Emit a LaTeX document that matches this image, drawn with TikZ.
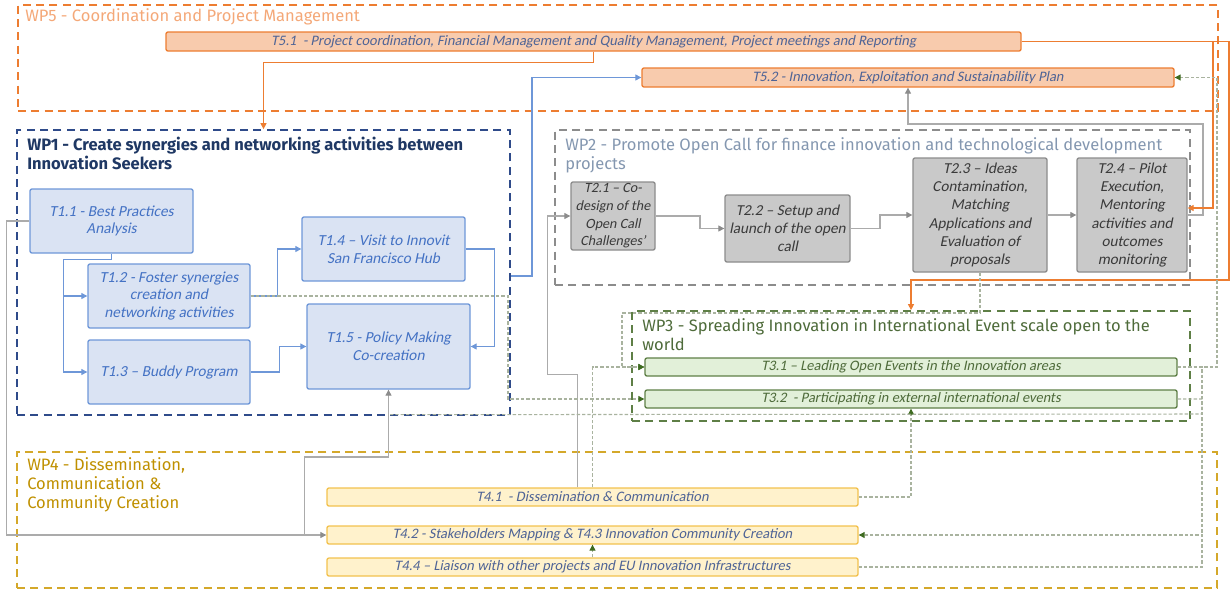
\documentclass[tikz,border=0pt]{standalone}
\usepackage{fontspec}
\setmainfont{Carlito}[AutoFakeSlant=0.2]
\newfontfamily\wpfont{Fira Sans}
\usepackage{tikz}
\usetikzlibrary{arrows.meta}

\definecolor{orangeline}{HTML}{ED7D31}
\definecolor{orangefill}{HTML}{F8CBAD}
\definecolor{orangetext}{HTML}{F4A878}
\definecolor{bluebox}{HTML}{2F4B8A}
\definecolor{bluefill}{HTML}{DAE3F3}
\definecolor{blueline}{HTML}{6E97D8}
\definecolor{bluetext}{HTML}{4472C4}
\definecolor{navytext}{HTML}{1F3864}
\definecolor{grayline}{HTML}{8C8C8C}
\definecolor{grayfill}{HTML}{C9C9C9}
\definecolor{graytext}{HTML}{3A3A3A}
\definecolor{wptwotext}{HTML}{8497B0}
\definecolor{greenline}{HTML}{5E7F46}
\definecolor{greenfill}{HTML}{E2F0D9}
\definecolor{greentext}{HTML}{4E6B3A}
\definecolor{goldline}{HTML}{D4A82A}
\definecolor{goldfill}{HTML}{FFF2CC}
\definecolor{goldbox}{HTML}{F2C14E}
\definecolor{goldtext}{HTML}{BF9000}
\definecolor{tasktext}{HTML}{4F6496}
\definecolor{linkgray}{HTML}{ABABAB}
\definecolor{linkdash}{HTML}{A9B39F}
\definecolor{tipgreen}{HTML}{3E6B20}

\begin{document}
\begin{tikzpicture}[x=0.75pt, y=-0.75pt,
    every node/.style={inner sep=0pt, align=center},
    wp/.style={draw, dash pattern=on 6pt off 4pt, line width=1.3pt},
    wplabel/.style={anchor=north west, align=left, font=\wpfont\fontsize{12.4}{14.4}\selectfont},
    task/.style={draw, rounded corners=1.5pt, line width=1pt, font=\itshape\fontsize{10.85}{13}\selectfont},
    taskone/.style={task, fill=bluefill, draw=blueline, text=bluetext, font=\itshape\fontsize{11.5}{13.2}\selectfont},
    tasktwo/.style={task, fill=grayfill, draw=grayline, text=graytext, font=\itshape\fontsize{11.4}{13.7}\selectfont},
    taskthree/.style={task, fill=greenfill, draw=greenline, text=greentext},
    taskfour/.style={task, fill=goldfill, draw=goldbox, text=tasktext},
    taskfive/.style={task, fill=orangefill, draw=orangeline, text=tasktext},
    orangearrow/.style={draw=orangeline, line width=0.8pt, -{Triangle[length=4.5pt,width=4.5pt]}},
    bluearrow/.style={draw=blueline, line width=0.8pt, -{Triangle[length=4.5pt,width=4.5pt]}},
    grayarrow/.style={draw=linkgray, line width=0.8pt, -{Triangle[length=4.5pt,width=4.5pt,color=grayline]}},
    dasharrow/.style={draw=linkdash, line width=0.8pt, dash pattern=on 2.5pt off 1.5pt, -{Triangle[length=4.5pt,width=4.5pt,color=tipgreen]}},
    dashline/.style={draw=linkdash, line width=0.8pt, dash pattern=on 2.5pt off 1.5pt}]

    \useasboundingbox (0,0) rectangle (1230,590);

    % Work package frames
    \node[wp, draw=orangeline, minimum width=900pt, minimum height=79.5pt] (wp5) at (618,58) {};
    \node[wp, draw=bluebox, minimum width=369.75pt, minimum height=213.75pt] (wp1) at (263.5,272.5) {};
    \node[wp, draw=grayline, minimum width=476.25pt, minimum height=116.25pt] (wp2) at (872.5,207.5) {};
    \node[wp, draw=greenline, minimum width=418.5pt, minimum height=82.5pt] (wp3) at (911,366) {};
    \node[wp, draw=goldline, minimum width=900pt, minimum height=102pt] (wp4) at (617,520) {};

    \node[wplabel, text=orangetext] (wp5label) at (25,8) {WP5 - Coordination and Project Management};
    \node[wplabel, text=navytext, font=\wpfont\bfseries\fontsize{12.4}{14.4}\selectfont] (wp1label) at (27,137)
        {WP1 - Create synergies and networking activities between\\Innovation Seekers};
    \node[wplabel, text=wptwotext] (wp2label) at (565,137)
        {WP2 - Promote Open Call for finance innovation and technological development\\projects};
    \node[wplabel, text=greentext] (wp3label) at (642,318)
        {WP3 - Spreading Innovation in International Event scale open to the\\world};
    \node[wplabel, text=goldtext] (wp4label) at (27,457)
        {WP4 - Dissemination,\\Communication \&\\Community Creation};

    % WP5 tasks
    \node[taskfive, minimum width=641.25pt, minimum height=14.25pt] (t51) at (593.5,41.5)
        {T5.1\ \ - Project coordination, Financial Management and Quality Management, Project meetings and Reporting};
    \node[taskfive, minimum width=399pt, minimum height=14.25pt] (t52) at (908,77.5)
        {T5.2 - Innovation, Exploitation and Sustainability Plan};

    % WP1 tasks
    \node[taskone, minimum width=122.25pt, minimum height=48pt] (t11) at (111.5,221) {T1.1 - Best Practices\\Analysis};
    \node[taskone, minimum width=121.5pt, minimum height=48pt] (t12) at (169,296) {T1.2 - Foster synergies\\creation and\\networking activities};
    \node[taskone, minimum width=121.5pt, minimum height=48pt] (t13) at (169,372) {T1.3 -- Buddy Program};
    \node[taskone, minimum width=122.25pt, minimum height=48pt] (t14) at (383.5,249) {T1.4 -- Visit to Innovit\\San Francisco Hub};
    \node[taskone, minimum width=122.25pt, minimum height=63.75pt] (t15) at (388.5,346.5) {T1.5 - Policy Making\\Co-creation};

    % WP2 tasks
    \node[tasktwo, minimum width=63pt, minimum height=51pt, font=\itshape\fontsize{10.6}{13.2}\selectfont] (t21) at (613,216) {T2.1 -- Co-\\design of the\\Open Call\\Challenges’};
    \node[tasktwo, minimum width=93.75pt, minimum height=50.25pt] (t22) at (787.5,228.5) {T2.2 -- Setup and\\launch of the open\\call};
    \node[tasktwo, minimum width=100.5pt, minimum height=85.5pt] (t23) at (980,215) {T2.3 -- Ideas\\Contamination,\\Matching\\Applications and\\Evaluation of\\proposals};
    \node[tasktwo, minimum width=82.5pt, minimum height=85.5pt] (t24) at (1132,215) {T2.4 -- Pilot\\Execution,\\Mentoring\\activities and\\outcomes\\monitoring};

    % WP3 tasks
    \node[taskthree, minimum width=399pt, minimum height=13.5pt] (t31) at (911,367) {T3.1 -- Leading Open Events in the Innovation areas};
    \node[taskthree, minimum width=399pt, minimum height=13.5pt] (t32) at (911,399) {T3.2\ \ - Participating in external international events};

    % WP4 tasks
    \node[taskfour, minimum width=398.25pt, minimum height=13.5pt] (t41) at (592.5,497) {T4.1\ \ - Dissemination \& Communication};
    \node[taskfour, minimum width=398.25pt, minimum height=13.5pt] (t42) at (592.5,535) {T4.2 - Stakeholders Mapping \& T4.3 Innovation Community Creation};
    \node[taskfour, minimum width=398.25pt, minimum height=13.5pt] (t44) at (592.5,567) {T4.4 -- Liaison with other projects and EU Innovation Infrastructures};

    % Links inside WP1
    \draw[bluearrow] (t11.south) -- ++(0,6) -| ([xshift=-18pt]t12.west) -- (t12.west);
    \draw[bluearrow] (t11.south) -- ++(0,6) -| ([xshift=-18pt]t13.west) -- (t13.west);
    \draw[bluearrow] (t12.east) -- ++(27,0) |- (t14.west);
    \draw[bluearrow] (t13.east) -- ++(29,0) |- (t15.west);
    \draw[bluearrow] (t14.east) -- ++(29,0) |- (t15.east);
    \draw[bluearrow] (wp1.east |- 0,276) -- (532,276) |- (t52.west);

    % Links inside WP2
    \draw[grayarrow] (t21.east) -- (700,216) |- (t22.west);
    \draw[grayarrow] (t22.east) -- (880,228.5) |- (t23.west);
    \draw[grayarrow] (t23.east) -- (t24.west);
    \draw[grayarrow] (t24.east) -| (1203,124) -| (t52.south);

    % Links from T5.1
    \draw[orangearrow] (t51.south) -- ++(0,11) -| (wp1.north);
    \draw[orangearrow] (t51.east) -| (1213,208) -- (t24.east |- 1213,208);
    \draw[orangearrow] (t51.east) -| (1229,280) -| (wp3.north);

    % Links to and from WP4
    \draw[grayarrow] (t11.west) -- ++(-23,0) |- (t42.west);
    \draw[grayarrow] ([xshift=-16.5pt]t42.west) -- ++(0,-78) -| (t15.south);
    \draw[grayarrow] ([xshift=-11pt]t41.north) -- ++(0,-113) -- ++(-30,0) |- (t21.west);
    \draw[dasharrow] (t41.north) |- (t31.west);
    \draw[dasharrow] (t41.east) -| (t32.south);
    \draw[dasharrow] (t44.north) -- (t42.south);
    \draw[dasharrow] (t44.east) -| (1202,535) -- (t42.east);

    % Dashed links to WP3 and back
    \draw[dasharrow] (t12.east) -- (508,296) |- (t32.west);
    \draw[dasharrow] (t23.south) |- (622,313) |- (t31.west);
    \draw[dasharrow] (t31.east) -- (1217,367) |- (t52.east);
    \draw[dashline] (t31.east) -| (1202,535);
    \draw[dashline] (t32.east) -| (1202,414) -- ([yshift=-18.75pt]t15.south);
\end{tikzpicture}
\end{document}
